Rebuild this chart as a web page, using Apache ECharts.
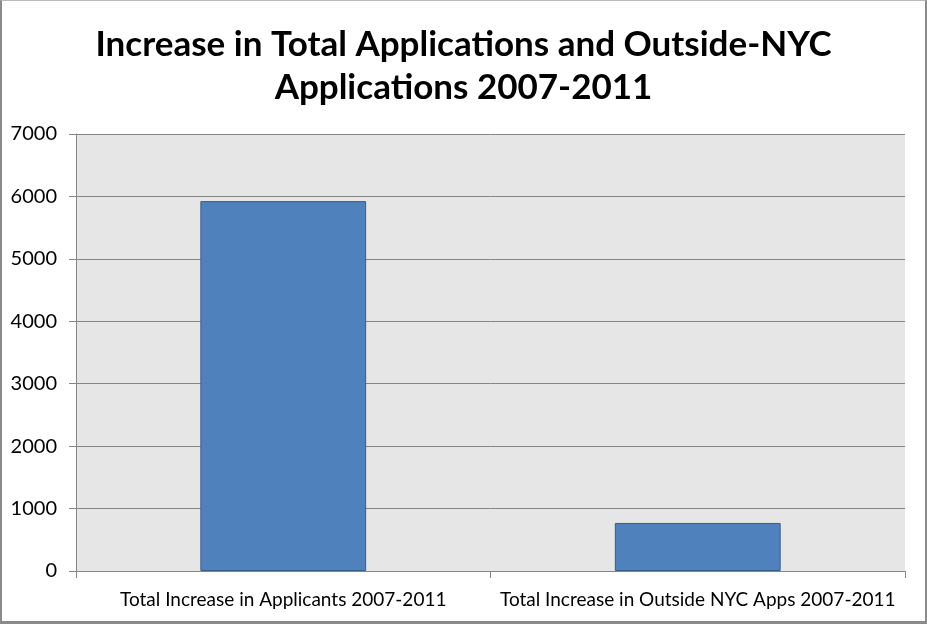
<!DOCTYPE html>
<html>
<head>
<meta charset="utf-8">
<script src="https://cdn.jsdelivr.net/npm/echarts@6/dist/echarts.min.js"></script>
<style>
html,body{margin:0;padding:0;background:#fff;}
#frame{position:absolute;left:0;top:0;width:923px;height:620px;border-left:2px solid #8a8a8a;border-top:1px solid #bbb;border-right:2px solid #8a8a8a;border-bottom:3px solid #8a8a8a;}
#c{position:absolute;left:0;top:0;width:927px;height:624px;}
</style>
</head>
<body>
<div id="frame"></div>
<div id="c"></div>
<script>
const categories = ['Total Increase in Applicants 2007-2011', 'Total Increase in Outside NYC Apps 2007-2011'];
const values = [5925, 770];
const titleText = 'Increase in Total Applications and Outside-NYC\nApplications 2007-2011';

const chart = echarts.init(document.getElementById('c'));
chart.setOption({
  animation: false,
  title: {
    text: titleText,
    left: 'center',
    top: 18,
    textStyle: {fontFamily: 'Lato', fontWeight: 'bold', fontSize: 35, color: '#000', lineHeight: 43}
  },
  grid: {left: 76, right: 22, top: 134, bottom: 53, show: true, backgroundColor: '#e6e6e6', borderWidth: 0},
  xAxis: {
    type: 'category',
    data: categories,
    axisLine: {lineStyle: {color: '#868686', width: 1}},
    axisTick: {show: true, length: 7, lineStyle: {color: '#868686'}},
    axisLabel: {fontFamily: 'Lato', fontSize: 19, color: '#000', margin: 19, interval: 0}
  },
  yAxis: {
    type: 'value',
    min: 0, max: 7000, interval: 1000,
    axisLine: {show: true, lineStyle: {color: '#868686', width: 1}},
    axisTick: {show: true, length: 7, lineStyle: {color: '#868686'}},
    splitLine: {lineStyle: {color: '#868686', width: 1}},
    axisLabel: {fontFamily: 'Lato', fontSize: 20, color: '#000', margin: 19, formatter: function (v) { return String(v); }}
  },
  series: [{
    type: 'bar',
    data: values,
    barWidth: '40%',
    itemStyle: {color: '#4f81bd', borderColor: '#385d8a', borderWidth: 1}
  }]
});
</script>
</body>
</html>
